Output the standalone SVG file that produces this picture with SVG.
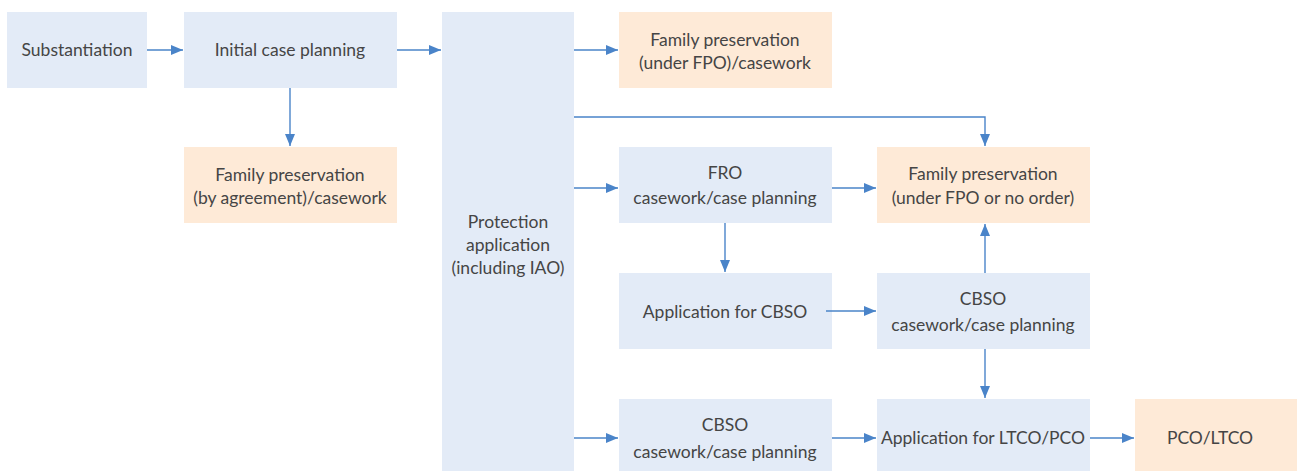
<svg xmlns="http://www.w3.org/2000/svg" width="1297" height="471" viewBox="0 0 1297 471">
  <style>
    .blue { fill: #e3ebf7; }
    .peach { fill: #feead7; }
    text { font-family: "Lato", "Noto Sans", sans-serif; font-size: 17.5px; fill: #454545; text-anchor: middle; }
    .conn { stroke: #4a84c9; stroke-width: 1.4; fill: none; marker-end: url(#arrow); }
  </style>
  <defs>
    <marker id="arrow" viewBox="0 0 12 10" refX="12" refY="5" markerWidth="12" markerHeight="10" markerUnits="userSpaceOnUse" orient="auto">
      <path d="M0,0 L12,5 L0,10 Z" fill="#4a84c9"/>
    </marker>
  </defs>
  <rect width="1297" height="471" fill="#ffffff"/>

  <g id="substantiation">
    <rect class="blue" x="7" y="12" width="140" height="76"/>
    <text x="77" y="56">Substantiation</text>
  </g>
  <g id="initial-case-planning">
    <rect class="blue" x="184" y="12" width="213" height="76"/>
    <text x="290" y="56">Initial case planning</text>
  </g>
  <g id="protection-application">
    <rect class="blue" x="442" y="12" width="132" height="459"/>
    <text x="508" y="228">Protection</text>
    <text x="508" y="251">application</text>
    <text x="508" y="274">(including IAO)</text>
  </g>
  <g id="fp-under-fpo">
    <rect class="peach" x="619" y="12" width="213" height="76"/>
    <text x="725" y="46">Family preservation</text>
    <text x="725" y="69">(under FPO)/casework</text>
  </g>
  <g id="fp-by-agreement">
    <rect class="peach" x="184" y="147" width="213" height="76"/>
    <text x="290" y="181">Family preservation</text>
    <text x="290" y="204">(by agreement)/casework</text>
  </g>
  <g id="fro-casework">
    <rect class="blue" x="619" y="147" width="213" height="76"/>
    <text x="725" y="179">FRO</text>
    <text x="725" y="204">casework/case planning</text>
  </g>
  <g id="fp-under-fpo-or-no-order">
    <rect class="peach" x="877" y="147" width="213" height="76"/>
    <text x="983" y="180">Family preservation</text>
    <text x="983" y="204">(under FPO or no order)</text>
  </g>
  <g id="application-cbso">
    <rect class="blue" x="619" y="273" width="213" height="76"/>
    <text x="725" y="318">Application for CBSO</text>
  </g>
  <g id="cbso-casework-right">
    <rect class="blue" x="877" y="273" width="213" height="76"/>
    <text x="983" y="305">CBSO</text>
    <text x="983" y="331">casework/case planning</text>
  </g>
  <g id="cbso-casework-bottom">
    <rect class="blue" x="619" y="399" width="213" height="72"/>
    <text x="725" y="431">CBSO</text>
    <text x="725" y="458">casework/case planning</text>
  </g>
  <g id="application-ltco-pco">
    <rect class="blue" x="877" y="399" width="213" height="72"/>
    <text x="983" y="444">Application for LTCO/PCO</text>
  </g>
  <g id="pco-ltco">
    <rect class="peach" x="1135" y="399" width="162" height="72"/>
    <text x="1210" y="444">PCO/LTCO</text>
  </g>

  <g id="connectors">
    <path class="conn" d="M147,50 H183"/>
    <path class="conn" d="M397,50 H441"/>
    <path class="conn" d="M574,50 H618"/>
    <path class="conn" d="M290,88 V146"/>
    <path class="conn" d="M574,117 H985 V146"/>
    <path class="conn" d="M574,188 H618"/>
    <path class="conn" d="M832,188 H876"/>
    <path class="conn" d="M725,223 V272"/>
    <path class="conn" d="M826,311 H876"/>
    <path class="conn" d="M985,273 V224"/>
    <path class="conn" d="M985,349 V398"/>
    <path class="conn" d="M574,438 H618"/>
    <path class="conn" d="M832,438 H876"/>
    <path class="conn" d="M1090,438 H1134"/>
  </g>
</svg>
